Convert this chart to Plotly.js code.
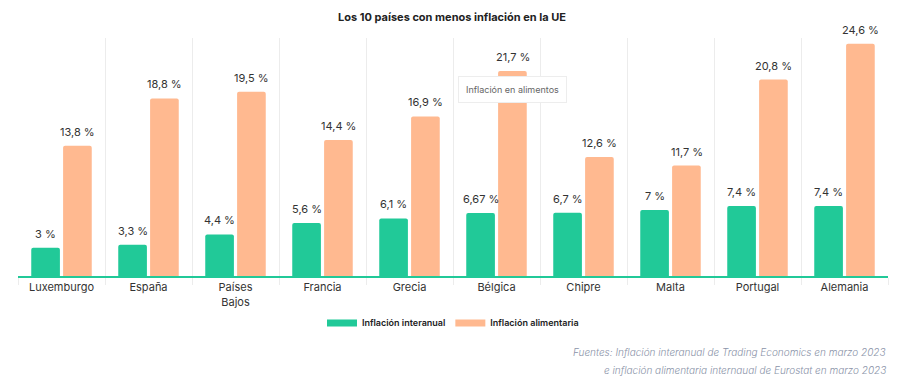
<!DOCTYPE html>
<html>
<head>
<meta charset="utf-8">
<script src="https://cdn.plot.ly/plotly-3.0.1.min.js"></script>
<style>html,body{margin:0;padding:0;background:#fff;}#chart{width:904px;height:382px;}</style>
</head>
<body>
<div id="chart"></div>
<script>
const countries = ["Luxemburgo","España","Países<br>Bajos","Francia","Grecia","Bélgica","Chipre","Malta","Portugal","Alemania"];
const interanual = [3, 3.3, 4.4, 5.6, 6.1, 6.67, 6.7, 7, 7.4, 7.4];
const alimentaria = [13.8, 18.8, 19.5, 14.4, 16.9, 21.7, 12.6, 11.7, 20.8, 24.6];
const seriesNames = ["Inflación interanual", "Inflación alimentaria"];
const sourceLines = ["Fuentes: Inflación interanual de Trading Economics en marzo 2023",
                     "e inflación alimentaria internaual de Eurostat en marzo 2023"];

const GREEN = "#21c998", ORANGE = "#ffb990";
const fmt = v => String(v).replace(".", ",") + " %";
const FONT = "Inter, 'Noto Sans', sans-serif";

const data = [
  {type:"bar", name:seriesNames[0], x:countries, y:interanual, marker:{color:GREEN, cornerradius:2}, hoverinfo:"skip", showlegend:false},
  {type:"bar", name:seriesNames[1], x:countries, y:alimentaria, marker:{color:ORANGE, cornerradius:2}, hoverinfo:"skip", showlegend:false},
  {type:"scatter", mode:"lines", name:seriesNames[0], x:[null], y:[null], line:{color:GREEN, width:7}, showlegend:true},
  {type:"scatter", mode:"lines", name:seriesNames[1], x:[null], y:[null], line:{color:ORANGE, width:7}, showlegend:true}
];

const SHIFT = 16;
const annotations = [];
[interanual, alimentaria].forEach((arr, si) => {
  arr.forEach((v, i) => {
    annotations.push({x:countries[i], y:v, xref:"x", yref:"y", text:fmt(v), showarrow:false,
      xshift: si === 0 ? -SHIFT : SHIFT, yanchor:"bottom", yshift:5,
      font:{family:FONT, size:11, color:"#333"}});
  });
});
annotations.push({x:countries[5], xref:"x", xshift:SHIFT, y:0.785, yref:"paper", yanchor:"middle",
  text:"Inflación en alimentos", showarrow:false, bgcolor:"#ffffff", bordercolor:"#ededed", borderwidth:1, borderpad:7,
  font:{family:FONT, size:9, color:"#666"}});
sourceLines.forEach((t, i) => {
  annotations.push({x:1, xref:"paper", xanchor:"right", y:[-0.319, -0.395][i], yref:"paper", yanchor:"middle", align:"right",
    text:"<i>" + t + "</i>", showarrow:false, font:{family:FONT, size:10, color:"#8a93a8", weight:300}});
});

const layout = {
  width:904, height:382,
  margin:{l:18, r:16, t:38, b:106},
  paper_bgcolor:"#fff", plot_bgcolor:"#fff",
  title:{text:"<b>Los 10 países con menos inflación en la UE</b>", x:0.5, xanchor:"center", y:0.955, yanchor:"middle",
    font:{family:FONT, size:11, color:"#222"}},
  barmode:"group", bargap:0.268, bargroupgap:0.1,
  font:{family:FONT, color:"#333"},
  xaxis:{type:"category", tickson:"boundaries", showgrid:true, gridcolor:"#ececec", gridwidth:1,
    ticks:"outside", ticklen:7, tickcolor:"#ececec", showline:true, linecolor:GREEN, linewidth:2,
    tickfont:{family:FONT, size:11, color:"#333"}, fixedrange:true},
  yaxis:{range:[0, 25.2], visible:false, showgrid:false, zeroline:false, fixedrange:true},
  showlegend:true,
  legend:{orientation:"h", x:0.5, xanchor:"center", y:-0.197, yanchor:"middle",
    font:{family:FONT, size:9, color:"#222", weight:600}, tracegroupgap:0},
  annotations:annotations
};

Plotly.newPlot("chart", data, layout, {displayModeBar:false, staticPlot:true});
</script>
</body>
</html>
